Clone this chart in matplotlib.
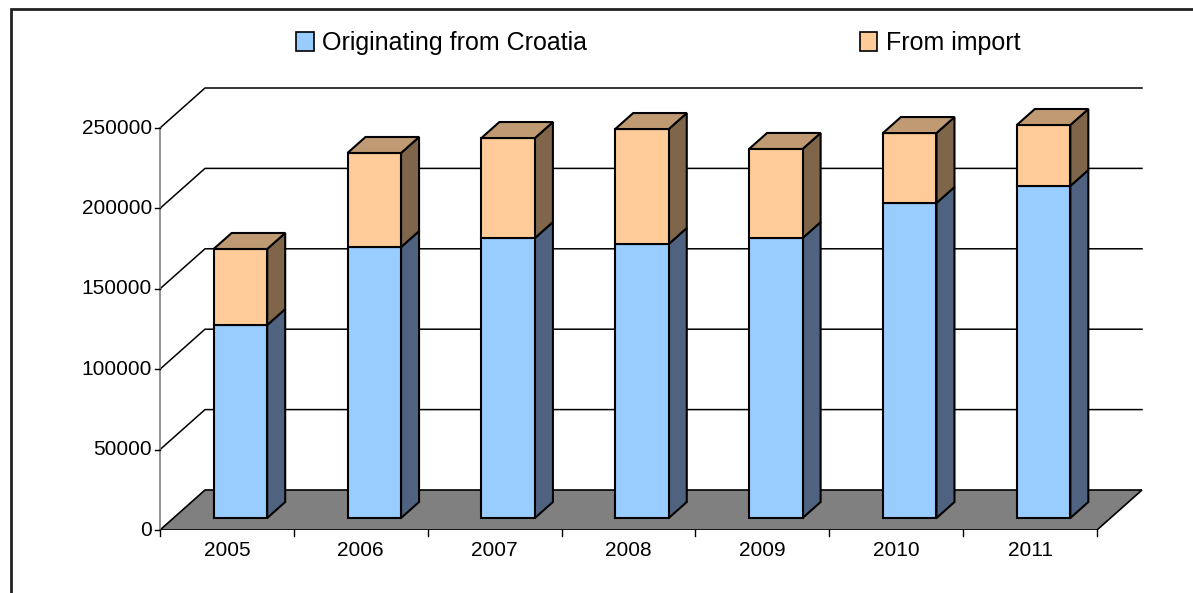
import matplotlib
matplotlib.use("Agg")
import matplotlib.pyplot as plt
from matplotlib.patches import Polygon, Patch, Rectangle
from matplotlib import font_manager
import numpy as np

years = ["2005", "2006", "2007", "2008", "2009", "2010", "2011"]
croatia = [120000, 168500, 174100, 170400, 174100, 195900, 206500]
imports = [47300, 58500, 62200, 71500, 55400, 43500, 37900]
series_names = ["Originating from Croatia", "From import"]
yticks = [0, 50000, 100000, 150000, 200000, 250000]

avail = {f.name for f in font_manager.fontManager.ttflist}
if "Liberation Sans Narrow" in avail:
    FAM = ["Liberation Sans Narrow", "DejaVu Sans"]
    TICK_FS, LEG_FS, COLSP = 16.5, 21, 9.6
else:
    FAM = ["Liberation Sans", "DejaVu Sans"]
    TICK_FS, LEG_FS, COLSP = 15, 18, 10.9
plt.rcParams["font.family"] = FAM

W, H = 1193, 593
fig = plt.figure(figsize=(W / 100, H / 100), dpi=100)

# axes placement in pixels
px_left, px_right, px_bottom, px_top = 160, 1150, 530, 80
ax = fig.add_axes([px_left / W, (H - px_bottom) / H, (px_right - px_left) / W, (px_bottom - px_top) / H])
n = len(years)
px_per_cat = (1097 - 160) / n
px_per_val = 402 / 250000
xmin = -0.5
xmax = xmin + (px_right - px_left) / px_per_cat
ymax = (px_bottom - px_top) / px_per_val
ax.set_xlim(xmin, xmax)
ax.set_ylim(0, ymax)
ax.axis("off")

# depth offsets in data units
DX = 45 / px_per_cat
DY = 40 / px_per_val

# floor
floor = Polygon([(-0.5, 0), (n - 0.5, 0), (n - 0.5 + DX, DY), (-0.5 + DX, DY)],
                closed=True, facecolor="#808080", edgecolor="black", lw=1.2, zorder=1)
ax.add_patch(floor)

# gridlines and axis
ax.plot([-0.5, -0.5], [0, yticks[-1]], color="#808080", lw=1.2, zorder=2, clip_on=False)
for t in yticks[1:]:
    ax.plot([-0.5, -0.5 + DX, n - 0.5 + DX], [t, t + DY, t + DY], color="black", lw=1.1, zorder=0.5, clip_on=False)
    ax.plot([-0.5 - 0.04, -0.5], [t, t], color="black", lw=1.0, clip_on=False)
ax.plot([-0.5 - 0.04, -0.5], [0, 0], color="black", lw=1.0, clip_on=False)
for k in range(n + 1):
    ax.plot([k - 0.5, k - 0.5], [0, -4 / px_per_val * 1.4], color="black", lw=1.0, clip_on=False)

for t in yticks:
    ax.text(-0.5 - 0.06, t, f"{t}", ha="right", va="center", fontsize=TICK_FS)
for i, y in enumerate(years):
    ax.text(i, -21 / px_per_val, y, ha="center", va="center", fontsize=TICK_FS)

# bars
bw = 0.4
f0, f1 = 0.3, 0.7
colors = [("#99CCFF", "#4F6381", "#7A8FAA"), ("#FFCC99", "#7F664B", "#BF9A73")]
for i in range(n):
    bottoms = [0, croatia[i]]
    heights = [croatia[i], imports[i]]
    ox, oy = f0 * DX, f0 * DY
    sx, sy = (f1 - f0) * DX, (f1 - f0) * DY
    xl, xr = i - bw / 2 + ox, i + bw / 2 + ox
    for s in range(2):
        b = bottoms[s] + oy
        tp = bottoms[s] + heights[s] + oy
        front, side, top = colors[s]
        ax.add_patch(Polygon([(xr, b), (xr + sx, b + sy), (xr + sx, tp + sy), (xr, tp)],
                             closed=True, facecolor=side, edgecolor="black", lw=1.5, zorder=3))
        ax.add_patch(Rectangle((xl, b), xr - xl, tp - b, facecolor=front, edgecolor="black", lw=1.5, zorder=4))
        if s == 1:
            ax.add_patch(Polygon([(xl, tp), (xr, tp), (xr + sx, tp + sy), (xl + sx, tp + sy)],
                                 closed=True, facecolor=top, edgecolor="black", lw=1.5, zorder=4))

# legend
handles = [Patch(facecolor=colors[0][0], edgecolor="black", lw=1.2),
           Patch(facecolor=colors[1][0], edgecolor="black", lw=1.2)]
leg = fig.legend(handles, series_names, loc="center left", bbox_to_anchor=(296 / W, 1 - 43 / H),
                 ncol=2, frameon=False, fontsize=LEG_FS, handlelength=0.7, handleheight=0.8,
                 handletextpad=0.35, columnspacing=COLSP, borderpad=0, borderaxespad=0)

# outer frame
fig.add_artist(Rectangle((11 / W, -0.05), 1.1, 1 - 9 / H + 0.05, transform=fig.transFigure,
                         fill=False, edgecolor="#222222", lw=2))

fig.savefig("out.png", dpi=100)
